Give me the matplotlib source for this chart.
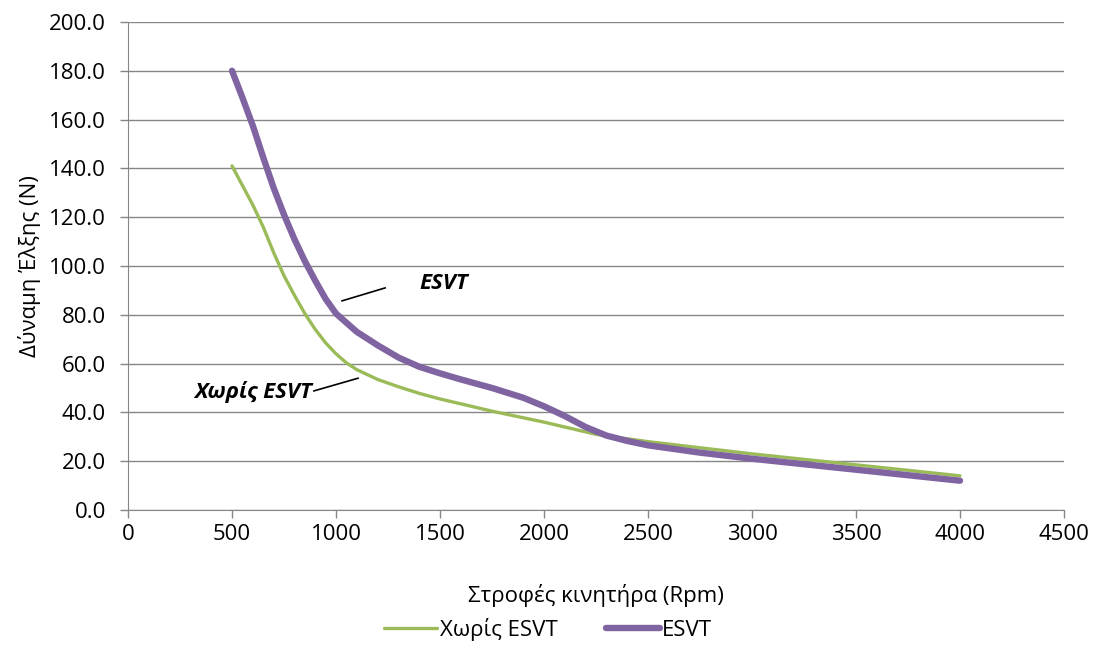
import matplotlib.pyplot as plt

plt.rcParams['font.family'] = ['Open Sans', 'DejaVu Sans']

rpm_esvt = [500, 550, 600, 650, 700, 750, 800, 850, 900, 950, 1000, 1100, 1200, 1300, 1400, 1500,
            1600, 1750, 1900, 2000, 2100, 2200, 2300, 2400, 2500, 2750, 3000, 3500, 4000]
force_esvt = [180, 169, 157.5, 144.5, 132, 121, 111, 102, 94, 86.5, 80.5, 73, 67.5, 62.5, 58.7, 56,
              53.5, 50, 46, 42.5, 38.5, 34, 30.5, 28.3, 26.5, 23.5, 21, 16.5, 12]

rpm_plain = [500, 550, 600, 650, 700, 750, 800, 850, 900, 950, 1000, 1050, 1100, 1200, 1300, 1400,
             1500, 1750, 2000, 2250, 2500, 3000, 3500, 4000]
force_plain = [141, 133, 125, 116, 105.5, 96, 88, 80.5, 74, 68.5, 64, 60.3, 57.5, 53.5, 50.5, 47.8,
               45.5, 40.5, 36, 31, 28, 23, 18.5, 14]

green = '#9BBB59'
purple = '#8064A2'
gray = '#868686'

fig = plt.figure(figsize=(10.96, 6.49), dpi=100)
ax = fig.add_axes([0.1168, 0.2142, 0.854, 0.752])

ax.plot(rpm_plain, force_plain, color=green, lw=2.4, solid_capstyle='round', solid_joinstyle='round',
        label='Χωρίς ESVT')
ax.plot(rpm_esvt, force_esvt, color=purple, lw=4.6, solid_capstyle='round', solid_joinstyle='round',
        label='ESVT')

ax.set_xlim(0, 4500)
ax.set_ylim(0, 200)
ax.set_xticks(range(0, 4501, 500))
ax.set_yticks(range(0, 201, 20))
ax.set_yticklabels([f'{v:.1f}' for v in range(0, 201, 20)])
ax.tick_params(labelsize=16, color=gray, length=6, width=1)
ax.tick_params(axis='x', pad=4)
ax.tick_params(axis='y', pad=10)
ax.grid(axis='y', color=gray, lw=1)
ax.set_axisbelow(True)
for s in ['top', 'right']:
    ax.spines[s].set_visible(False)
for s in ['left', 'bottom']:
    ax.spines[s].set_color(gray)

ax.set_xlabel('Στροφές κινητήρα (Rpm)', fontsize=16, labelpad=28)
ax.set_ylabel('Δύναμη Έλξης (N)', fontsize=16, labelpad=6)

# callouts
ax.plot([1029, 1236], [85.7, 91], color='black', lw=1.2)
ax.text(1400, 93, 'ESVT', fontsize=16, fontweight='bold', style='italic', va='center', ha='left')
ax.plot([894, 1106], [48.8, 54], color='black', lw=1.2)
ax.text(885, 48.5, 'Χωρίς ESVT', fontsize=16, fontweight='bold', style='italic', va='center', ha='right')

fig.legend(loc='lower center', bbox_to_anchor=(0.5, -0.018), ncol=2, frameon=False,
           fontsize=16, handlelength=2.4, columnspacing=2.2, handletextpad=0.1)

fig.savefig('out.png', dpi=100)
